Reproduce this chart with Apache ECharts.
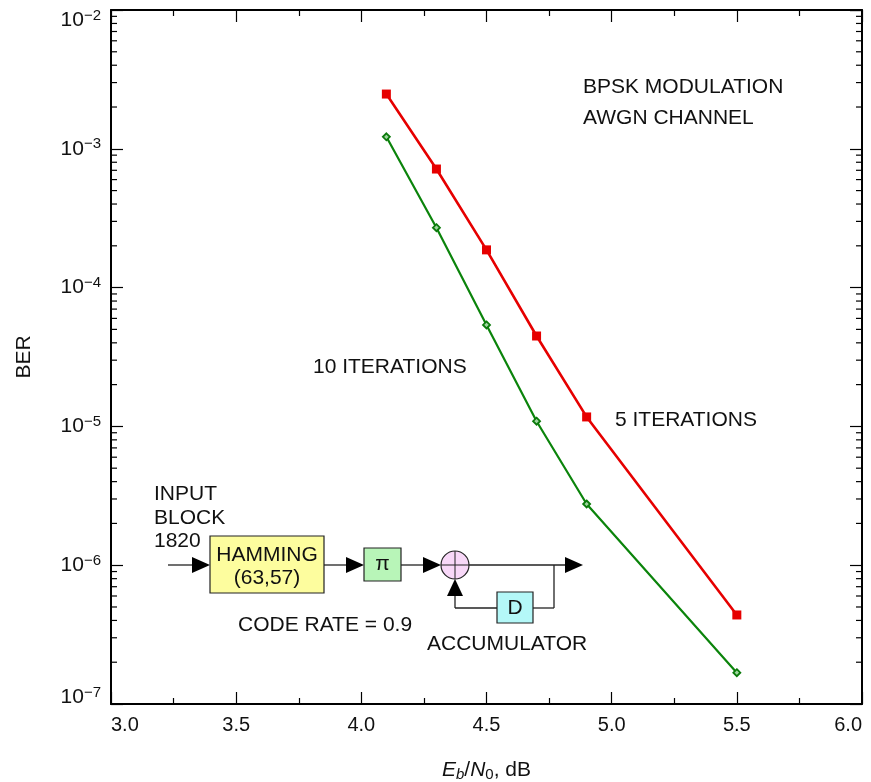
<!DOCTYPE html>
<html>
<head>
<meta charset="utf-8">
<script src="https://cdn.jsdelivr.net/npm/echarts@6/dist/echarts.min.js"></script>
<style>html,body{margin:0;padding:0;background:#fff;}#c{width:871px;height:782px;}</style>
</head>
<body>
<div id="c"></div>
<script>
// ---- data ----
const ebn0 = [4.1, 4.3, 4.5, 4.7, 4.9, 5.5];
const ber5iter = [2.48e-3, 7.15e-4, 1.87e-4, 4.48e-5, 1.17e-5, 4.38e-7];
const ber10iter = [1.22e-3, 2.70e-4, 5.38e-5, 1.09e-5, 2.76e-6, 1.68e-7];
const xMin = 3.0, xMax = 6.0, xStep = 0.5;
const yMin = 1e-7, yMax = 1e-2;
const minorMantissas = [2, 3, 4, 5, 6, 7, 8, 9];
const decades = [-7, -6, -5, -4, -3];

const FONT = 'Liberation Sans, Arial, Helvetica, sans-serif';
const chart = echarts.init(document.getElementById('c'), null, {renderer: 'canvas'});

const minorTickData = [];
decades.forEach(function (d) {
  minorMantissas.forEach(function (m) { minorTickData.push([xMin, m * Math.pow(10, d)]); });
});

function supLabel(v) {
  const e = Math.round(Math.log10(v));
  const core = '{b|10}{s|\u2212' + Math.abs(e) + '}';
  if (Math.abs(v - yMax) / yMax < 1e-6) return '{e|}\n' + core;
  if (Math.abs(v - yMin) / yMin < 1e-6) return core + '\n{f|}';
  return core;
}

const ink = '#222';
function arrowH(x1, x2, y) {
  return [
    {type: 'line', shape: {x1: x1, y1: y, x2: x2 - 16, y2: y}, style: {stroke: ink, lineWidth: 1.3}},
    {type: 'polygon', shape: {points: [[x2 - 18, y - 8], [x2, y], [x2 - 18, y + 8]]}, style: {fill: '#000'}}
  ];
}
function txt(x, y, s, align) {
  return {type: 'text', x: x, y: y, style: {text: s, font: '21px ' + FONT, fill: '#111', align: align || 'left', verticalAlign: 'middle'}};
}
const diagram = [].concat(
  arrowH(168, 210, 565),
  arrowH(324, 364, 565),
  arrowH(401, 441, 565),
  arrowH(469, 583, 565),
  [
    {type: 'rect', shape: {x: 210, y: 536, width: 114, height: 57}, style: {fill: '#fdfd9e', stroke: ink, lineWidth: 1.2}},
    {type: 'rect', shape: {x: 364, y: 548, width: 37, height: 33}, style: {fill: '#b8f5b8', stroke: ink, lineWidth: 1.2}},
    {type: 'circle', shape: {cx: 455, cy: 565, r: 14}, style: {fill: '#f8d8f8', stroke: ink, lineWidth: 1.2}},
    {type: 'line', shape: {x1: 455, y1: 551, x2: 455, y2: 579}, style: {stroke: ink, lineWidth: 1}},
    {type: 'line', shape: {x1: 441, y1: 565, x2: 469, y2: 565}, style: {stroke: ink, lineWidth: 1}},
    {type: 'line', shape: {x1: 554, y1: 565, x2: 554, y2: 608}, style: {stroke: ink, lineWidth: 1.3}},
    {type: 'line', shape: {x1: 554, y1: 608, x2: 533, y2: 608}, style: {stroke: ink, lineWidth: 1.3}},
    {type: 'rect', shape: {x: 497, y: 592, width: 36, height: 31}, style: {fill: '#b4f8f8', stroke: ink, lineWidth: 1.2}},
    {type: 'line', shape: {x1: 497, y1: 608, x2: 455, y2: 608}, style: {stroke: ink, lineWidth: 1.3}},
    {type: 'line', shape: {x1: 455, y1: 608, x2: 455, y2: 594}, style: {stroke: ink, lineWidth: 1.3}},
    {type: 'polygon', shape: {points: [[447, 596], [455, 579], [463, 596]]}, style: {fill: '#000'}},
    txt(154, 494, 'INPUT'), txt(154, 518, 'BLOCK'), txt(154, 541, '1820'),
    txt(267, 555, 'HAMMING', 'center'), txt(267, 578, '(63,57)', 'center'),
    txt(382.5, 564, '\u03c0', 'center'),
    txt(515, 608, 'D', 'center'),
    txt(238, 625, 'CODE RATE = 0.9'),
    txt(427, 644, 'ACCUMULATOR'),
    txt(583, 87, 'BPSK MODULATION'),
    txt(583, 118, 'AWGN CHANNEL'),
    txt(313, 367, '10 ITERATIONS'),
    txt(615, 420, '5 ITERATIONS')
  ]
);

const axisLineStyle = {color: '#000', width: 2};
const option = {
  animation: false,
  backgroundColor: '#fff',
  grid: {left: 111, right: 9, top: 10, bottom: 78, containLabel: false, outerBoundsMode: 'none'},
  xAxis: [
    {
      type: 'value', min: xMin, max: xMax, interval: xStep, position: 'bottom',
      axisLine: {show: true, onZero: false, lineStyle: axisLineStyle},
      axisTick: {show: true, inside: true, length: 12, lineStyle: {color: '#000', width: 1.2}},
      minorTick: {show: true, splitNumber: 2, length: 6, lineStyle: {color: '#000', width: 1.2}},
      splitLine: {show: false},
      axisLabel: {
        margin: 11, color: '#111', fontSize: 20, fontFamily: FONT,
        formatter: function (v) { return v.toFixed(1); },
        alignMinLabel: 'left', alignMaxLabel: 'right'
      },
      name: '{i|E}{sb|b}{n|/}{i|N}{s0|0}{n|, dB}',
      nameLocation: 'middle', nameGap: 54,
      nameTextStyle: {
        fontSize: 20,
        rich: {
          i: {fontSize: 21, fontStyle: 'italic', fontFamily: FONT, color: '#111', lineHeight: 24},
          n: {fontSize: 21, fontFamily: FONT, color: '#111', lineHeight: 24},
          sb: {fontSize: 15, fontStyle: 'italic', fontFamily: FONT, color: '#111', lineHeight: 15, verticalAlign: 'bottom'},
          s0: {fontSize: 15, fontFamily: FONT, color: '#111', lineHeight: 15, verticalAlign: 'bottom'}
        }
      }
    },
    {
      type: 'value', min: xMin, max: xMax, interval: xStep, position: 'top',
      axisLine: {show: true, onZero: false, lineStyle: axisLineStyle},
      axisTick: {show: true, inside: true, length: 12, lineStyle: {color: '#000', width: 1.2}},
      minorTick: {show: true, splitNumber: 2, length: 6, lineStyle: {color: '#000', width: 1.2}},
      splitLine: {show: false}, axisLabel: {show: false}
    }
  ],
  yAxis: [
    {
      type: 'log', logBase: 10, min: yMin, max: yMax, position: 'left',
      axisLine: {show: true, onZero: false, lineStyle: axisLineStyle},
      axisTick: {show: true, inside: true, length: 12, lineStyle: {color: '#000', width: 1.2}},
      splitLine: {show: false},
      axisLabel: {
        margin: 10, formatter: supLabel, fontSize: 21, fontFamily: FONT, color: '#111',
        rich: {
          b: {fontSize: 21, fontFamily: FONT, color: '#111', lineHeight: 24},
          s: {fontSize: 15, fontFamily: FONT, color: '#111', lineHeight: 19, verticalAlign: 'top'},
          e: {fontSize: 10, lineHeight: 21},
          f: {fontSize: 10, lineHeight: 14}
        }
      },
      name: 'BER', nameLocation: 'middle', nameGap: 76, nameRotate: 90,
      nameTextStyle: {fontSize: 21, fontFamily: FONT, color: '#111'}
    },
    {
      type: 'log', logBase: 10, min: yMin, max: yMax, position: 'right',
      axisLine: {show: true, onZero: false, lineStyle: axisLineStyle},
      axisTick: {show: true, inside: true, length: 12, lineStyle: {color: '#000', width: 1.2}},
      splitLine: {show: false}, axisLabel: {show: false}
    }
  ],
  series: [
    {
      name: '5 ITERATIONS', type: 'line', xAxisIndex: 0, yAxisIndex: 0,
      data: ebn0.map(function (x, i) { return [x, ber5iter[i]]; }),
      lineStyle: {color: '#e60000', width: 2.6},
      symbol: 'rect', symbolSize: 9, showAllSymbol: true,
      itemStyle: {color: '#e60000'}, z: 3
    },
    {
      name: '10 ITERATIONS', type: 'line', xAxisIndex: 0, yAxisIndex: 0,
      data: ebn0.map(function (x, i) { return [x, ber10iter[i]]; }),
      lineStyle: {color: '#0b840b', width: 2.2},
      symbol: 'diamond', symbolSize: 7, showAllSymbol: true,
      itemStyle: {color: '#9fd69f', borderColor: '#0b7a0b', borderWidth: 1.8}, z: 3
    },
    {
      name: 'minor', type: 'custom', xAxisIndex: 0, yAxisIndex: 0,
      data: minorTickData, silent: true, clip: false, z: 5,
      renderItem: function (params, api) {
        const v = api.value(1);
        const l = api.coord([xMin, v]);
        const r = api.coord([xMax, v]);
        const st = {stroke: '#000', lineWidth: 1.2};
        return {type: 'group', children: [
          {type: 'line', shape: {x1: l[0], y1: l[1], x2: l[0] + 6, y2: l[1]}, style: st},
          {type: 'line', shape: {x1: r[0], y1: r[1], x2: r[0] - 6, y2: r[1]}, style: st}
        ]};
      }
    }
  ],
  graphic: diagram
};
chart.setOption(option);
</script>
</body>
</html>
